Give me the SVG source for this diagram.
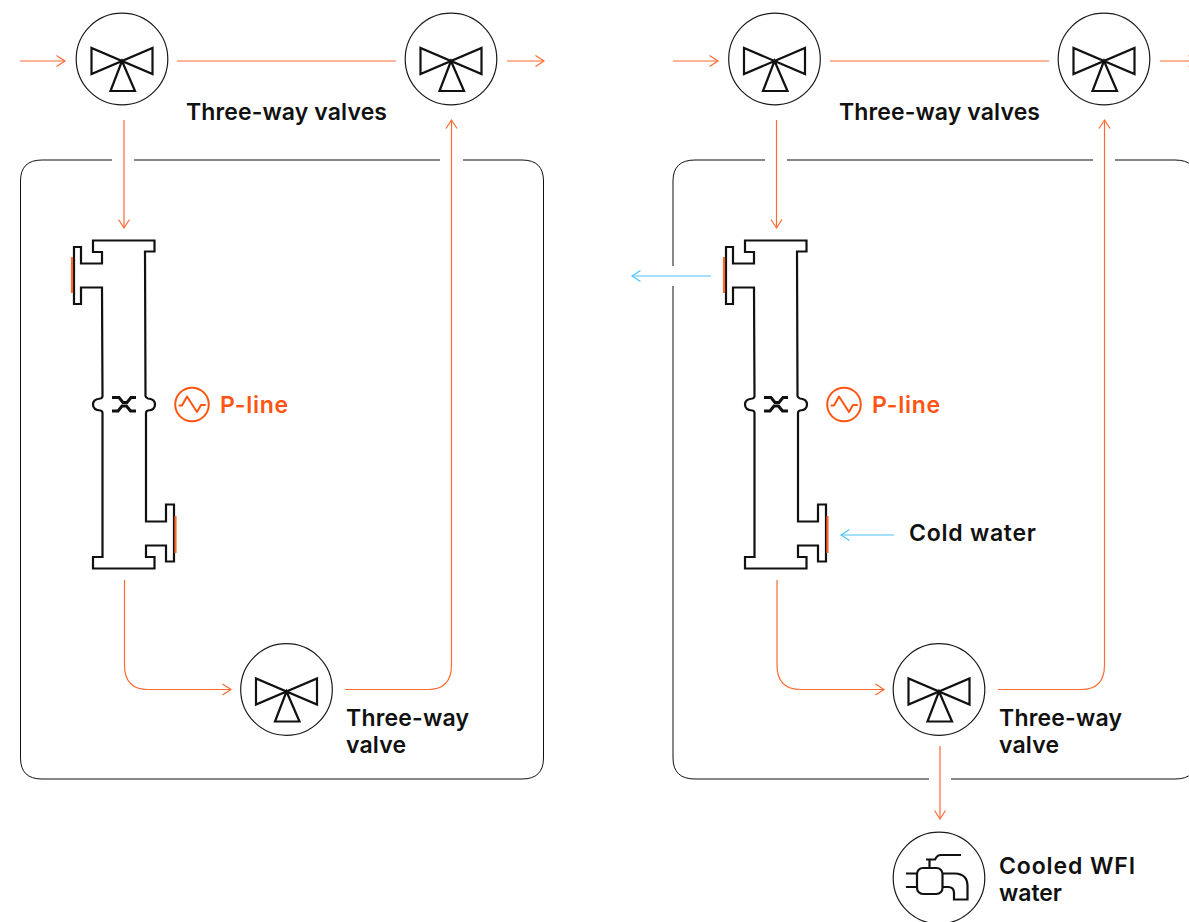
<svg xmlns="http://www.w3.org/2000/svg" width="1189" height="922" viewBox="0 0 1189 922">
<style>
text{font-family:"Inter","Liberation Sans",sans-serif;font-weight:600;font-size:23px;fill:#111}
text.o{fill:#ff5512}
.c{fill:#fff;stroke:#1a1a1a;stroke-width:1.2}
.i{fill:none;stroke:#111;stroke-width:2.200;stroke-linejoin:miter}
.box{fill:none;stroke:#111;stroke-width:1}
.or{fill:none;stroke:#ff6a33;stroke-width:1.2}
.bl{fill:none;stroke:#4cc4ff;stroke-width:1.2}
.bar{stroke:#ff6a33;stroke-width:2.200;fill:none}
.ho{fill:none;stroke:#ff5512;stroke-width:2}
</style>
<defs>
<marker id="ao" markerUnits="userSpaceOnUse" markerWidth="12" markerHeight="14" refX="10" refY="7" orient="auto"><path d="M1.500 1.500L10 7L1.500 12.500" fill="none" stroke="#ff6a33" stroke-width="1.2"/></marker>
<marker id="ab" markerUnits="userSpaceOnUse" markerWidth="12" markerHeight="14" refX="10" refY="7" orient="auto"><path d="M1.500 1.500L10 7L1.500 12.500" fill="none" stroke="#4cc4ff" stroke-width="1.2"/></marker>
<g id="valve"><circle class="c" cx="0" cy="0" r="45.800"/><path class="i" d="M-30.500 -11V15L30.500 -11V15ZM0 2L-11.500 32H13Z"/></g>
<g id="exch">
<path class="i" d="M93 240.500H154.500V251.500H145L145.500 396Q146 398 148 398.500Q155 399 155 404.500Q155 410 148 410.500Q146 411 146 413L146 521.500H166V504.500H174V561.500H166V545.500H146V557H154.500V568.500H93V557H102.500L102.500 413Q102.500 411 100.500 410.500Q93 410 93 404.500Q93 399 100.500 398.500Q102.500 398 102.500 396L102 287.500H81V304H74V247H81V263.500H102V252H93Z"/>
<path d="M112 397.500H119L123 402.500H127L131 397.500H136M112 411H118L122 406H126.500L130.500 411H136" fill="none" stroke="#111" stroke-width="3"/>
<g id="ph"><circle class="ho" cx="192" cy="404.500" r="16.800"/><path class="ho" d="M179.500 405.500H182L187 396.500L197 412L201 405H205" stroke-linejoin="round" stroke-linecap="round"/></g>
<text class="o" x="220" y="413" textLength="68">P-line</text>
</g>
</defs>

<g id="connectors">
<path class="box" d="M112 160H42Q20.500 160 20.500 181V758Q20.500 779 42 779H522Q543.500 779 543.500 758V181Q543.500 160 522 160H463M440 160H134"/>
<path class="box" d="M765 160H695Q673 160 673 181V266M673 286V758Q673 779 695 779H929M951 779H1175Q1197 779 1197 758V181Q1197 160 1175 160H1115M1093 160H787"/>
<path class="or" marker-end="url(#ao)" d="M20 61H65"/>
<path class="or" d="M177 61H396"/>
<path class="or" marker-end="url(#ao)" d="M507 61H544"/>
<path class="or" marker-end="url(#ao)" d="M124 120V228"/>
<path class="or" marker-end="url(#ao)" d="M124.500 580V665Q124.500 689.500 148 689.500H231"/>
<path class="or" marker-end="url(#ao)" d="M345 689.500H428Q451.500 689.500 451.500 665V120"/>
<path class="or" marker-end="url(#ao)" d="M673 61H718"/>
<path class="or" d="M830 61H1049"/>
<path class="or" marker-end="url(#ao)" d="M1160 61H1197"/>
<path class="or" marker-end="url(#ao)" d="M776.500 120V228"/>
<path class="or" marker-end="url(#ao)" d="M777 580V665Q777 689.500 801 689.500H884"/>
<path class="or" marker-end="url(#ao)" d="M998 689.500H1081Q1104.500 689.500 1104.500 665V120"/>
<path class="or" marker-end="url(#ao)" d="M940 746V819"/>
<path class="bl" marker-end="url(#ab)" d="M711 276H632"/>
<path class="bl" marker-end="url(#ab)" d="M894 535H841"/>
</g>

<g id="valve-l1"><use href="#valve" x="122" y="59"/></g>
<g id="valve-l2"><use href="#valve" x="451" y="59"/></g>
<g id="valve-l3"><use href="#valve" x="286.500" y="689.500"/></g>
<g id="valve-r1"><use href="#valve" x="774.500" y="59"/></g>
<g id="valve-r2"><use href="#valve" x="1104" y="59"/></g>
<g id="valve-r3"><use href="#valve" x="939" y="689.500"/></g>
<g id="exchanger-l"><use href="#exch"/><path class="bar" d="M72 257V293M175.500 516V553"/></g>
<g id="exchanger-r"><use href="#exch" x="652"/><path class="bar" d="M724 257V293M827.500 516V553"/></g>
<g id="tap"><circle class="c" cx="939" cy="878" r="45.800"/>
<path class="i" d="M906 873.500H917M906 887H917M929.500 859.500V868M926 859.500H935Q937 855 941 855H961M942.500 873.500H955Q967.500 874 967.500 886V899.500H954V893Q954 887 948 887H942.500"/>
<rect class="i" x="917" y="868" width="25.500" height="26" rx="6"/></g>
<g id="labels">
<text x="186" y="120" textLength="201">Three-way valves</text>
<text x="839" y="120" textLength="201">Three-way valves</text>
<text x="346" y="726" textLength="123">Three-way</text>
<text x="346" y="753" textLength="60">valve</text>
<text x="999" y="726" textLength="123">Three-way</text>
<text x="999" y="753" textLength="60">valve</text>
<text x="909" y="541" textLength="127">Cold water</text>
<text x="999" y="874" textLength="136">Cooled WFI</text>
<text x="999" y="901" textLength="63">water</text>
</g>
</svg>
